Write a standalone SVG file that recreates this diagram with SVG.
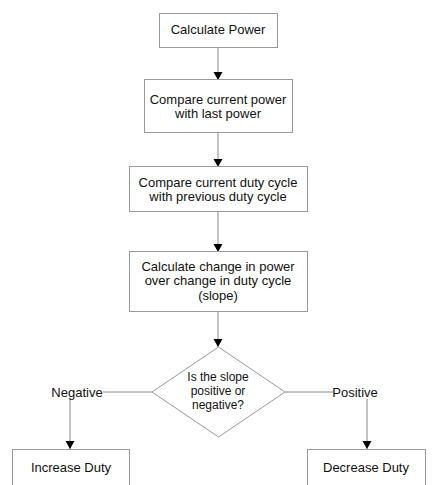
<svg xmlns="http://www.w3.org/2000/svg" width="442" height="485" viewBox="0 0 442 485">
<style>
.box{fill:#fff;stroke:#9a9a9a;stroke-width:1}
.t{font-family:"Liberation Sans",Arial,sans-serif;font-size:13px;fill:#111;text-anchor:middle}
.d{font-size:12px}
.c{fill:none;stroke:#8a8a8a;stroke-width:1}
</style>
<defs>
<marker id="ah" markerUnits="userSpaceOnUse" markerWidth="10" markerHeight="10" refX="8" refY="4.5" orient="auto">
<path d="M0,0 L8,4.5 L0,9 Z" fill="#000"/>
</marker>
</defs>
<rect width="442" height="485" fill="#fff"/>
<g id="connectors">
<line class="c" x1="218" y1="47" x2="218" y2="80" marker-end="url(#ah)"/>
<line class="c" x1="218" y1="132" x2="218" y2="167" marker-end="url(#ah)"/>
<line class="c" x1="218" y1="212" x2="218" y2="252" marker-end="url(#ah)"/>
<line class="c" x1="218" y1="312" x2="218" y2="347" marker-end="url(#ah)"/>
<line class="c" x1="152" y1="392" x2="103" y2="392"/>
<line class="c" x1="70" y1="399" x2="70" y2="449" marker-end="url(#ah)"/>
<line class="c" x1="285" y1="392" x2="333" y2="392"/>
<line class="c" x1="367" y1="399" x2="367" y2="449" marker-end="url(#ah)"/>
<text class="t" x="77" y="396.5">Negative</text>
<text class="t" x="355" y="396.5">Positive</text>
</g>
<g id="n1">
<rect class="box" x="159.5" y="13.5" width="118" height="34"/>
<text class="t" x="218" y="34">Calculate Power</text>
</g>
<g id="n2">
<rect class="box" x="144.5" y="79.5" width="148" height="53"/>
<text class="t" x="218" y="104">Compare current power</text>
<text class="t" x="218" y="118">with last power</text>
</g>
<g id="n3">
<rect class="box" x="129.5" y="166.5" width="178" height="45"/>
<text class="t" x="218" y="186.5">Compare current duty cycle</text>
<text class="t" x="218" y="200.5">with previous duty cycle</text>
</g>
<g id="n4">
<rect class="box" x="129.5" y="251.5" width="178" height="60"/>
<text class="t" x="218" y="270.5">Calculate change in power</text>
<text class="t" x="218" y="285">over change in duty cycle</text>
<text class="t" x="218" y="299.5">(slope)</text>
</g>
<g id="n5">
<polygon class="box" points="218.5,347 285,392 218.5,437 152,392"/>
<text class="t d" x="218" y="381">Is the slope</text>
<text class="t d" x="218" y="395">positive or</text>
<text class="t d" x="218" y="408.5">negative?</text>
</g>
<g id="n6">
<rect class="box" x="12.5" y="449.5" width="117" height="45"/>
<text class="t" x="71" y="472">Increase Duty</text>
</g>
<g id="n7">
<rect class="box" x="307.5" y="449.5" width="118" height="45"/>
<text class="t" x="366" y="472">Decrease Duty</text>
</g>
</svg>
